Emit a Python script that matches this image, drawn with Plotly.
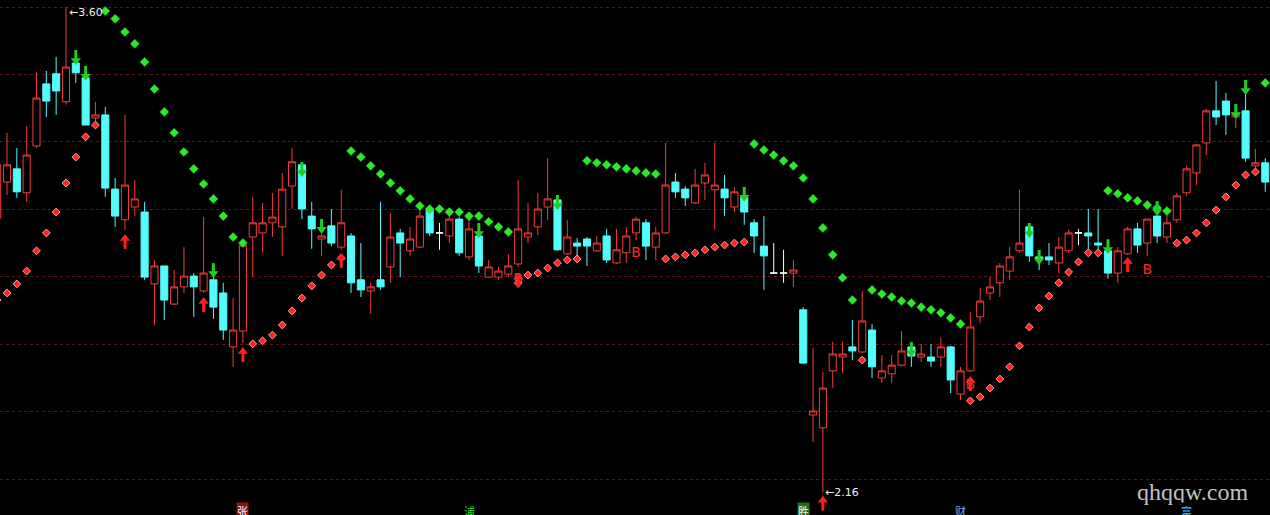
import plotly.graph_objects as go

# ---------------- data ----------------
idx = list(range(130))

opens = [2.974, 3.081, 3.120, 3.049, 3.188, 3.372, 3.402, 3.319, 3.434, 3.390,
         3.271, 3.280, 3.060, 2.969, 3.007, 2.992, 2.779, 2.832, 2.719, 2.770,
         2.802, 2.758, 2.791, 2.752, 2.592, 2.639, 2.918, 2.930, 2.960, 2.948,
         3.069, 3.132, 2.980, 2.912, 2.951, 2.888, 2.921, 2.791, 2.758, 2.791,
         2.829, 2.930, 2.877, 2.888, 3.001, 2.930, 2.921, 2.971, 2.859, 2.921,
         2.799, 2.799, 2.808, 2.838, 2.918, 2.948, 3.007, 3.028, 2.868, 2.900,
         2.912, 2.877, 2.921, 2.841, 2.871, 2.930, 2.960, 2.888, 2.930, 3.081,
         3.060, 3.019, 3.078, 3.058, 3.060, 3.007, 3.037, 2.960, 2.891, 2.811,
         2.811, 2.811, 2.702, 2.390, 2.352, 2.521, 2.562, 2.592, 2.577, 2.642,
         2.500, 2.512, 2.538, 2.592, 2.562, 2.562, 2.562, 2.592, 2.452, 2.521,
         2.681, 2.752, 2.782, 2.817, 2.877, 2.948, 2.859, 2.859, 2.841, 2.877,
         2.930, 2.930, 2.900, 2.877, 2.811, 2.868, 2.942, 2.900, 2.980, 2.918,
         2.969, 3.049, 3.108, 3.197, 3.292, 3.321, 3.274, 3.292, 3.129, 3.138]

highs = [3.146, 3.227, 3.182, 3.247, 3.407, 3.410, 3.452, 3.600, 3.443, 3.399,
         3.319, 3.304, 3.093, 3.280, 3.087, 3.022, 2.850, 2.832, 2.820, 2.888,
         2.811, 2.977, 2.799, 2.782, 2.737, 2.900, 3.037, 3.019, 3.049, 3.108,
         3.182, 3.138, 3.022, 2.933, 3.001, 3.058, 2.930, 2.900, 2.782, 3.022,
         2.989, 2.942, 2.948, 3.001, 3.001, 2.960, 2.980, 2.977, 2.971, 2.927,
         2.850, 2.829, 2.868, 3.087, 3.019, 3.049, 3.152, 3.034, 2.969, 2.915,
         2.918, 2.921, 2.942, 2.942, 2.948, 2.977, 2.971, 2.948, 3.197, 3.108,
         3.069, 3.120, 3.138, 3.197, 3.102, 3.066, 3.043, 2.971, 2.980, 2.900,
         2.880, 2.850, 2.710, 2.589, 2.518, 2.607, 2.607, 2.672, 2.758, 2.660,
         2.568, 2.568, 2.639, 2.598, 2.601, 2.601, 2.619, 2.595, 2.533, 2.696,
         2.767, 2.799, 2.841, 2.888, 3.058, 2.954, 2.865, 2.900, 2.918, 2.939,
         2.942, 3.001, 3.001, 2.883, 2.888, 2.948, 2.960, 2.971, 2.989, 2.983,
         3.049, 3.129, 3.194, 3.298, 3.381, 3.345, 3.295, 3.345, 3.179, 3.152]

lows = [2.963, 3.043, 3.034, 3.022, 3.182, 3.274, 3.280, 3.310, 3.375, 3.250,
        3.256, 3.037, 2.948, 2.939, 2.980, 2.791, 2.657, 2.672, 2.716, 2.752,
        2.681, 2.752, 2.675, 2.613, 2.533, 2.604, 2.799, 2.871, 2.918, 2.862,
        3.001, 2.971, 2.883, 2.862, 2.891, 2.880, 2.752, 2.740, 2.690, 2.761,
        2.782, 2.799, 2.862, 2.885, 2.921, 2.880, 2.900, 2.862, 2.850, 2.811,
        2.796, 2.791, 2.799, 2.829, 2.900, 2.924, 2.969, 2.877, 2.865, 2.841,
        2.832, 2.874, 2.841, 2.838, 2.841, 2.909, 2.850, 2.850, 2.927, 3.034,
        3.010, 3.016, 3.028, 2.939, 2.980, 2.992, 2.954, 2.871, 2.761, 2.811,
        2.782, 2.770, 2.541, 2.310, 2.160, 2.470, 2.515, 2.553, 2.574, 2.500,
        2.485, 2.485, 2.533, 2.533, 2.547, 2.533, 2.533, 2.455, 2.435, 2.518,
        2.663, 2.731, 2.740, 2.791, 2.871, 2.844, 2.820, 2.835, 2.811, 2.871,
        2.894, 2.880, 2.874, 2.794, 2.782, 2.865, 2.871, 2.862, 2.900, 2.900,
        2.960, 3.040, 3.072, 3.161, 3.250, 3.221, 3.241, 3.141, 3.108, 3.052]

closes = [3.132, 3.132, 3.052, 3.161, 3.330, 3.321, 3.351, 3.422, 3.405, 3.250,
          3.280, 3.063, 2.980, 3.072, 3.031, 2.799, 2.832, 2.731, 2.770, 2.802,
          2.770, 2.811, 2.710, 2.642, 2.642, 2.894, 2.960, 2.960, 2.977, 3.060,
          3.141, 3.001, 2.942, 2.921, 2.900, 2.960, 2.782, 2.761, 2.770, 2.770,
          2.918, 2.900, 2.912, 2.980, 2.930, 2.930, 2.971, 2.871, 2.942, 2.832,
          2.829, 2.817, 2.832, 2.942, 2.930, 3.001, 3.031, 2.880, 2.918, 2.891,
          2.891, 2.900, 2.850, 2.880, 2.921, 2.971, 2.891, 2.930, 3.072, 3.052,
          3.034, 3.072, 3.102, 3.072, 3.034, 3.052, 2.992, 2.921, 2.862, 2.811,
          2.811, 2.820, 2.544, 2.402, 2.470, 2.571, 2.571, 2.580, 2.669, 2.533,
          2.521, 2.538, 2.580, 2.565, 2.571, 2.550, 2.592, 2.494, 2.521, 2.651,
          2.728, 2.770, 2.832, 2.859, 2.900, 2.862, 2.850, 2.850, 2.888, 2.930,
          2.930, 2.921, 2.894, 2.811, 2.877, 2.942, 2.894, 2.971, 2.921, 2.960,
          3.040, 3.120, 3.191, 3.292, 3.274, 3.280, 3.286, 3.152, 3.138, 3.081]

sar = [2.731, 2.752, 2.779, 2.817, 2.877, 2.930, 2.992, 3.078, 3.155, 3.215,
       3.250, 3.588, 3.565, 3.526, 3.491, 3.437, 3.357, 3.289, 3.227, 3.170,
       3.120, 3.075, 3.031, 2.980, 2.918, 2.900, 2.601, 2.610, 2.627, 2.657,
       2.699, 2.737, 2.773, 2.805, 2.835, 2.856, 3.173, 3.155, 3.129, 3.105,
       3.078, 3.055, 3.031, 3.010, 3.001, 3.001, 2.992, 2.992, 2.980, 2.980,
       2.963, 2.948, 2.933, 2.782, 2.805, 2.811, 2.826, 2.841, 2.850, 2.853,
       3.144, 3.138, 3.132, 3.126, 3.120, 3.114, 3.108, 3.105, 2.853, 2.859,
       2.865, 2.871, 2.880, 2.888, 2.894, 2.900, 2.903, 3.194, 3.176, 3.161,
       3.144, 3.129, 3.093, 3.031, 2.945, 2.865, 2.797, 2.731, 2.553, 2.761,
       2.749, 2.740, 2.728, 2.722, 2.710, 2.702, 2.693, 2.678, 2.660, 2.432,
       2.444, 2.470, 2.497, 2.533, 2.595, 2.651, 2.708, 2.743, 2.782, 2.814,
       2.844, 2.871, 2.871, 3.055, 3.046, 3.034, 3.025, 3.013, 3.004, 2.995,
       2.900, 2.909, 2.930, 2.960, 2.998, 3.037, 3.072, 3.102, 3.111, 3.375]

# signal arrows: (candle index, price at arrow centre)
down_idx = [8, 9, 22, 31, 33, 49, 57, 76, 93, 105, 106, 113, 118, 126, 127]
down_px = [3.449, 3.402, 2.817, 3.117, 2.948, 2.936, 3.019, 3.043, 2.583,
           2.936, 2.856, 2.888, 3.001, 3.289, 3.360]
up_idx = [13, 21, 25, 35, 53, 84, 99, 115]
up_px = [2.906, 2.719, 2.571, 2.850, 2.791, 2.130, 2.485, 2.838]

b_idx = [53, 65, 99, 117]
b_px = [2.791, 2.868, 2.479, 2.820]

grid_levels = [2.2, 2.4, 2.6, 2.8, 3.0, 3.2, 3.4, 3.6]

hi_label_idx, hi_label = 7, "3.60"
lo_label_idx, lo_label = 84, "2.16"

info_idx = [25, 48, 82, 98, 121]
info_txt = ["张", "浦", "胜", "财", "富"]

# ---------------- styling ----------------
RED = "#f23c3c"
CYAN = "#54fcfc"
GREEN = "#2ee82e"
Y0, Y1 = 2.0935, 3.6208
PX = (Y1 - Y0) / 515.0          # price per pixel

is_doji = [o == c for o, c in zip(opens, closes)]
normal = [not d for d in is_doji]


def pick(vals, keep):
    return [v if k else None for v, k in zip(vals, keep)]


fig = go.Figure()

fig.add_trace(go.Candlestick(
    x=idx,
    open=pick(opens, normal), high=pick(highs, normal),
    low=pick(lows, normal), close=pick(closes, normal),
    increasing=dict(line=dict(color=RED, width=1), fillcolor="#000000"),
    decreasing=dict(line=dict(color=CYAN, width=1), fillcolor=CYAN),
    whiskerwidth=0, hoverinfo="skip", showlegend=False,
))

fig.add_trace(go.Candlestick(
    x=idx,
    open=pick(opens, is_doji), high=pick(highs, is_doji),
    low=pick(lows, is_doji), close=pick(closes, is_doji),
    increasing=dict(line=dict(color="#ffffff", width=1), fillcolor="#ffffff"),
    decreasing=dict(line=dict(color="#ffffff", width=1), fillcolor="#ffffff"),
    whiskerwidth=0, hoverinfo="skip", showlegend=False,
))

# SAR dots: red when below the close, green when above
red_x = [i for i in idx if sar[i] < closes[i]]
grn_x = [i for i in idx if sar[i] >= closes[i]]
fig.add_trace(go.Scatter(
    x=red_x, y=[sar[i] for i in red_x], mode="markers",
    marker=dict(symbol="diamond", size=6, color="#ff2424",
                line=dict(color="#ff9a9a", width=1)),
    hoverinfo="skip", showlegend=False))
fig.add_trace(go.Scatter(
    x=grn_x, y=[sar[i] for i in grn_x], mode="markers",
    marker=dict(symbol="diamond", size=7, color=GREEN,
                line=dict(color="#1fbf1f", width=0.5)),
    hoverinfo="skip", showlegend=False))


def add_arrow(xs, ys, color, down):
    sgn = 1 if down else -1
    # stem
    fig.add_trace(go.Scatter(
        x=xs, y=[v + sgn * 3.0 * PX for v in ys], mode="markers",
        marker=dict(symbol="line-ns", size=7,
                    line=dict(color=color, width=3)),
        hoverinfo="skip", showlegend=False))
    # head
    fig.add_trace(go.Scatter(
        x=xs, y=[v - sgn * 2.5 * PX for v in ys], mode="markers",
        marker=dict(symbol="triangle-down" if down else "triangle-up",
                    size=9, color=color, line=dict(width=0)),
        hoverinfo="skip", showlegend=False))


add_arrow(down_idx, down_px, "#22cc22", True)
add_arrow(up_idx, up_px, "#ff1e1e", False)

# B markers
fig.add_trace(go.Scatter(
    x=b_idx, y=b_px, mode="text", text=["B"] * len(b_idx),
    textfont=dict(family="DejaVu Sans", size=14, color="#ff2828"),
    textposition="middle center", hoverinfo="skip", showlegend=False))

annotations = [
    dict(x=hi_label_idx + 0.1, y=highs[hi_label_idx] - 5 * PX, xref="x", yref="y",
         text="←" + hi_label, showarrow=False, xanchor="left", yanchor="middle",
         font=dict(family="DejaVu Sans", size=11, color="#f0f0f0")),
    dict(x=lo_label_idx + 0.05, y=lows[lo_label_idx], xref="x", yref="y",
         text="←" + lo_label, showarrow=False, xanchor="left", yanchor="middle",
         font=dict(family="DejaVu Sans", size=11, color="#f0f0f0")),
    dict(x=0.9386, y=0.045, xref="paper", yref="paper", text="qhqqw.com",
         showarrow=False, xanchor="center", yanchor="middle",
         font=dict(family="Liberation Serif", size=24, color="#c0c0c0")),
]
info_bg = ["#8a1414", "#000000", "#1c6e1c", "#000000", "#000000"]
info_fc = ["#ffffff", "#33cc33", "#ffffff", "#6fa8ff", "#46b4ff"]
for k, (i, t) in enumerate(zip(info_idx, info_txt)):
    annotations.append(dict(
        x=i, y=0.008, xref="x", yref="paper", text=t, showarrow=False,
        xanchor="center", yanchor="middle", bgcolor=info_bg[k],
        font=dict(family="Noto Sans CJK SC", size=11, color=info_fc[k]),
        borderpad=0))

fig.update_layout(
    width=1270, height=515,
    margin=dict(l=0, r=0, t=0, b=0, pad=0),
    paper_bgcolor="#000000", plot_bgcolor="#000000",
    showlegend=False, boxgap=0.28, boxgroupgap=0.0,
    annotations=annotations,
    xaxis=dict(range=[0.288, 129.484], visible=False, showgrid=False,
               zeroline=False, rangeslider=dict(visible=False), fixedrange=True),
    yaxis=dict(range=[Y0, Y1], showgrid=True, gridcolor="#5a1a1a",
               griddash="dot", gridwidth=1, tickvals=grid_levels,
               showticklabels=False, zeroline=False, showline=False,
               ticks="", fixedrange=True),
)

fig.write_html(
    "out.html",
    config={"displayModeBar": False},
    post_script="document.body.style.margin='0px';document.body.style.background='#000';",
)
